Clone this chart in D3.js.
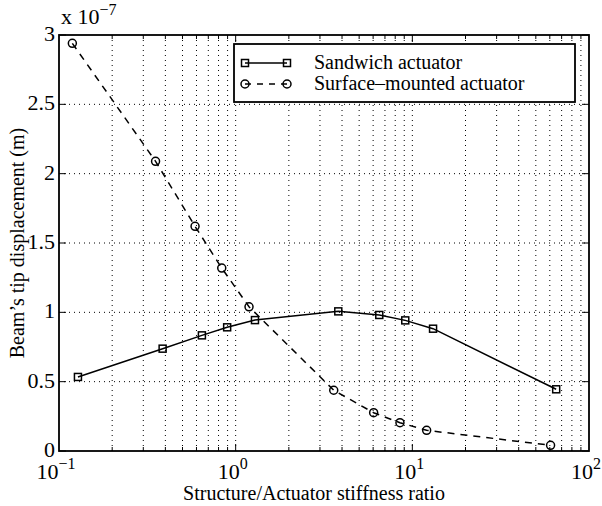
<!DOCTYPE html>
<html>
<head>
<meta charset="utf-8">
<script src="https://cdn.jsdelivr.net/npm/d3@7"></script>
<style>
  body { margin: 0; background: #fff; }
  svg text { font-family: "Liberation Serif", "Times New Roman", serif; }
</style>
</head>
<body>
<svg id="chart"></svg>
<script>
// chart size and plot box
var w = 602, h = 506;
var pLeft = 59, pRight = 589, pTop = 35, pBottom = 451;

// values (y in units of 1e-7 m)
var sandwichX = [0.128, 0.386, 0.644, 0.895, 1.286, 3.81, 6.50, 9.12, 13.1, 65.2];
var sandwichY = [0.534, 0.738, 0.834, 0.892, 0.944, 1.007, 0.981, 0.942, 0.882, 0.445];
var surfaceX = [0.119, 0.352, 0.589, 0.834, 1.19, 3.59, 6.04, 8.51, 12.05, 60.6];
var surfaceY = [2.94, 2.089, 1.62, 1.319, 1.040, 0.438, 0.276, 0.204, 0.149, 0.041];

var yTicks = [0, 0.5, 1, 1.5, 2, 2.5, 3];
var yTickLabels = ["0", "0.5", "1", "1.5", "2", "2.5", "3"];
var xDecades = [0.1, 1, 10, 100];
var xExponents = ["\u22121", "0", "1", "2"];
var legendLabels = ["Sandwich actuator", "Surface\u2013mounted actuator"];

var svg = d3.select('#chart').attr('width', w).attr('height', h);

var x = d3.scaleLog().domain([0.1, 100]).range([pLeft, pRight]);
var y = d3.scaleLinear().domain([0, 3]).range([pBottom, pTop]);

// minor log ticks for grid
var xGrid = [];
for (var d = 0; d < 3; d++) {
  for (var k = 2; k <= 9; k++) xGrid.push(xDecades[d] * k);
}
xGrid = xGrid.concat([1, 10]);

// dotted grid
svg.selectAll('.vgrid').data(xGrid).enter().append('line')
    .attr('x1', function(d) { return x(d); })
    .attr('x2', function(d) { return x(d); })
    .attr('y1', pTop).attr('y2', pBottom)
    .attr('stroke', '#000').attr('stroke-width', 1)
    .attr('stroke-dasharray', '1,4');
svg.selectAll('.hgrid').data(yTicks.slice(1, -1)).enter().append('line')
    .attr('x1', pLeft).attr('x2', pRight)
    .attr('y1', function(d) { return y(d); })
    .attr('y2', function(d) { return y(d); })
    .attr('stroke', '#000').attr('stroke-width', 1)
    .attr('stroke-dasharray', '1,4');

// inward ticks on all sides
xGrid.forEach(function(d) {
  var len = (d == 1 || d == 10) ? 7 : 4;
  svg.append('line').attr('x1', x(d)).attr('x2', x(d))
      .attr('y1', pBottom).attr('y2', pBottom - len).attr('stroke', '#000');
  svg.append('line').attr('x1', x(d)).attr('x2', x(d))
      .attr('y1', pTop).attr('y2', pTop + len).attr('stroke', '#000');
});
yTicks.forEach(function(d) {
  svg.append('line').attr('x1', pLeft).attr('x2', pLeft + 7)
      .attr('y1', y(d)).attr('y2', y(d)).attr('stroke', '#000');
  svg.append('line').attr('x1', pRight).attr('x2', pRight - 7)
      .attr('y1', y(d)).attr('y2', y(d)).attr('stroke', '#000');
});

// plot box
svg.append('rect')
    .attr('x', pLeft).attr('y', pTop)
    .attr('width', pRight - pLeft).attr('height', pBottom - pTop)
    .attr('fill', 'none').attr('stroke', '#000').attr('stroke-width', 1.8);

// y tick labels
svg.selectAll('.ylab').data(yTicks).enter().append('text')
    .attr('x', pLeft - 4)
    .attr('y', function(d) { return y(d) + 6; })
    .attr('text-anchor', 'end')
    .style('font-size', '22px')
    .text(function(d, i) { return yTickLabels[i]; });

// x tick labels 10^n
xDecades.forEach(function(d, i) {
  var t = svg.append('text')
      .attr('x', x(d) - 3)
      .attr('y', pBottom + 28)
      .attr('text-anchor', 'middle')
      .style('font-size', '22px');
  t.append('tspan').text('10');
  t.append('tspan').attr('dy', -10).style('font-size', '16px').text(xExponents[i]);
});

// exponent note
var note = svg.append('text').attr('x', pLeft + 2).attr('y', pTop - 11).style('font-size', '22px');
note.append('tspan').text('x 10');
note.append('tspan').attr('dy', -9).style('font-size', '16px').text('\u22127');

// axis titles
svg.append('text')
    .attr('x', (pLeft + pRight) / 2 - 10)
    .attr('y', 500)
    .attr('text-anchor', 'middle')
    .style('font-size', '20px')
    .text('Structure/Actuator stiffness ratio');
svg.append('text')
    .attr('transform', 'translate(24,' + ((pTop + pBottom) / 2) + ') rotate(-90)')
    .attr('text-anchor', 'middle')
    .style('font-size', '20px')
    .text("Beam\u2019s tip displacement (m)");

// series
var line = d3.line()
    .x(function(d) { return x(d[0]); })
    .y(function(d) { return y(d[1]); });

var sandwich = d3.zip(sandwichX, sandwichY);
var surface = d3.zip(surfaceX, surfaceY);

svg.append('path').datum(sandwich).attr('d', line)
    .attr('fill', 'none').attr('stroke', '#000').attr('stroke-width', 1.5);
svg.append('path').datum(surface).attr('d', line)
    .attr('fill', 'none').attr('stroke', '#000').attr('stroke-width', 1.5)
    .attr('stroke-dasharray', '7,6');

svg.selectAll('.sq').data(sandwich).enter().append('rect')
    .attr('x', function(d) { return x(d[0]) - 3.5; })
    .attr('y', function(d) { return y(d[1]) - 3.5; })
    .attr('width', 7).attr('height', 7)
    .attr('fill', 'none').attr('stroke', '#000').attr('stroke-width', 1.5);
svg.selectAll('.ci').data(surface).enter().append('circle')
    .attr('cx', function(d) { return x(d[0]); })
    .attr('cy', function(d) { return y(d[1]); })
    .attr('r', 4)
    .attr('fill', 'none').attr('stroke', '#000').attr('stroke-width', 1.5);

// legend
var lg = svg.append('g');
lg.append('rect')
    .attr('x', 234).attr('y', 44).attr('width', 341).attr('height', 58)
    .attr('fill', '#fff').attr('stroke', '#000').attr('stroke-width', 1.8);
var rows = [63, 84];
lg.append('line').attr('x1', 245).attr('x2', 287).attr('y1', rows[0]).attr('y2', rows[0])
    .attr('stroke', '#000').attr('stroke-width', 1.5);
lg.append('rect').attr('x', 241.5).attr('y', rows[0] - 3.5).attr('width', 7).attr('height', 7)
    .attr('fill', 'none').attr('stroke', '#000').attr('stroke-width', 1.5);
lg.append('rect').attr('x', 283.5).attr('y', rows[0] - 3.5).attr('width', 7).attr('height', 7)
    .attr('fill', 'none').attr('stroke', '#000').attr('stroke-width', 1.5);
lg.append('line').attr('x1', 245).attr('x2', 287).attr('y1', rows[1]).attr('y2', rows[1])
    .attr('stroke', '#000').attr('stroke-width', 1.5).attr('stroke-dasharray', '6,6');
lg.append('circle').attr('cx', 245).attr('cy', rows[1]).attr('r', 4)
    .attr('fill', 'none').attr('stroke', '#000').attr('stroke-width', 1.5);
lg.append('circle').attr('cx', 287).attr('cy', rows[1]).attr('r', 4)
    .attr('fill', 'none').attr('stroke', '#000').attr('stroke-width', 1.5);
legendLabels.forEach(function(l, i) {
  lg.append('text').attr('x', 314).attr('y', rows[i] + 6)
      .style('font-size', '20px').text(l);
});
</script>
</body>
</html>
